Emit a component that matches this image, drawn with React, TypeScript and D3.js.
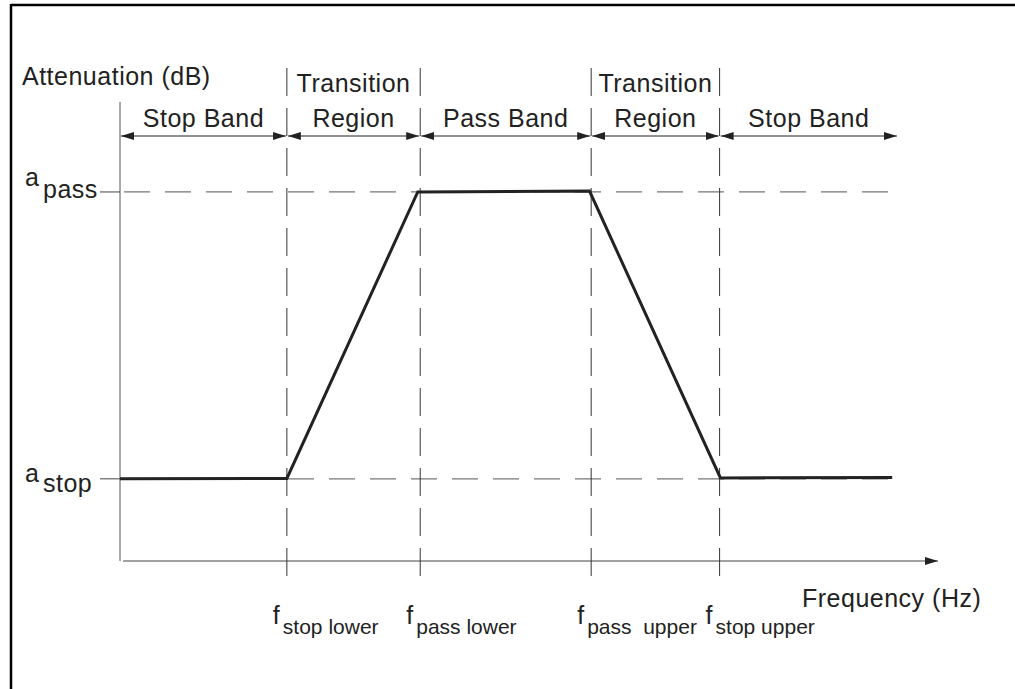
import React from "react";
import * as d3 from "d3";

// Frequency positions (arbitrary units along the frequency axis)
const bandEdges = [20.4, 36.7, 57.6, 73.3];
const bandEdgeNames = ["stop lower", "pass lower", "pass  upper", "stop upper"];
const bandNames = [["Stop Band"], ["Transition", "Region"], ["Pass Band"], ["Transition", "Region"], ["Stop Band"]];
const bandArrowEnd = 95.1;

// Attenuation levels (arbitrary units)
const aLevels = [17.9, 80.4];
const aNames = ["stop", "pass"];

// Response curve
const curveFreq = [0, 20.4, 36.4, 57.4, 73.4, 94.4];
const curveAtten = [17.9, 18.0, 80.4, 80.6, 18.1, 18.2];

const W = 1015;
const H = 689;
// label offsets (layout) for the a-labels: [base dy, subscript dy]
const aLabelDy = [
  [3, 13],
  [-6, 6],
];

export default function App() {
  const x = d3.scaleLinear().domain([0, 100]).range([120, 938]);
  const y = d3.scaleLinear().domain([0, 100]).range([561, 102]);
  const font = "'Liberation Sans', Arial, Helvetica, sans-serif";
  const txt = "#222";
  const fs = 25;
  const ls = 0.5;

  const line = d3
    .line<number>()
    .x((_, i) => x(curveFreq[i]))
    .y((d) => y(d));

  const arrowStops = [0, ...bandEdges, bandArrowEnd];
  const yArrow = 136;

  return (
    <svg
      width={W}
      height={H}
      style={{ position: "absolute", left: 0, top: 0, background: "#fff" }}
      fontFamily={font}
    >
      <defs>
        <marker id="ah" viewBox="0 0 13 8" refX="13" refY="4" markerWidth="13" markerHeight="8" markerUnits="userSpaceOnUse" orient="auto-start-reverse">
          <path d="M0,0 L13,4 L0,8 Z" fill="#222" />
        </marker>
        <marker id="axh" viewBox="0 0 13 8" refX="13" refY="4" markerWidth="13" markerHeight="8" markerUnits="userSpaceOnUse" orient="auto">
          <path d="M0,0 L13,4 L0,8 Z" fill="#222" />
        </marker>
      </defs>
      <rect x={0} y={0} width={W} height={H} fill="#fff" />
      {/* frame */}
      <line x1={11} y1={5} x2={W} y2={5} stroke="#000" strokeWidth={2.5} />
      <line x1={11} y1={4} x2={11} y2={H} stroke="#000" strokeWidth={2.5} />

      {/* axes */}
      <line x1={x(0)} y1={y(100)} x2={x(0)} y2={y(0)} stroke="#555" strokeWidth={1} />
      <line x1={x(0) + 3} y1={y(0)} x2={x(100)} y2={y(0)} stroke="#444" strokeWidth={1.2} markerEnd="url(#axh)" />

      {/* horizontal dashed levels */}
      {aLevels.map((a, i) => (
        <g key={"h" + i}>
          <line x1={x(0) - 20} y1={y(a)} x2={x(0)} y2={y(a)} stroke="#444" strokeWidth={1} />
          <line x1={x(0)} y1={y(a)} x2={x(94.2)} y2={y(a)} stroke="#777" strokeWidth={1.3} strokeDasharray="26 15" strokeDashoffset={-4} />
        </g>
      ))}

      {/* vertical dashed band edges */}
      {bandEdges.map((f, i) => (
        <line key={"v" + i} x1={x(f)} y1={68} x2={x(f)} y2={579} stroke="#333" strokeWidth={1} strokeDasharray="28 12" />
      ))}

      {/* band arrows */}
      {arrowStops.slice(0, -1).map((f, i) => (
        <line
          key={"a" + i}
          x1={x(f) + 1}
          y1={yArrow}
          x2={x(arrowStops[i + 1]) - 1}
          y2={yArrow}
          stroke="#222"
          strokeWidth={1.2}
          markerStart="url(#ah)"
          markerEnd="url(#ah)"
        />
      ))}

      {/* band names */}
      {bandNames.map((names, i) => {
        const cx = (x(arrowStops[i]) + x(arrowStops[i + 1])) / 2;
        return names.length === 1 ? (
          <text key={"b" + i} x={cx} y={127} textAnchor="middle" fontSize={fs} letterSpacing={ls} fill={txt}>
            {names[0]}
          </text>
        ) : (
          <g key={"b" + i}>
            <text x={cx} y={92} textAnchor="middle" fontSize={fs} letterSpacing={ls} fill={txt}>
              {names[0]}
            </text>
            <text x={cx} y={127} textAnchor="middle" fontSize={fs} letterSpacing={ls} fill={txt}>
              {names[1]}
            </text>
          </g>
        );
      })}

      {/* response curve */}
      <path d={line(curveAtten) || ""} fill="none" stroke="#222" strokeWidth={3} strokeLinejoin="miter" />

      {/* y labels */}
      <text x={22} y={85} fontSize={fs} letterSpacing={ls} fill={txt}>
        Attenuation (dB)
      </text>
      {aLevels.map((a, i) => (
        <g key={"al" + i}>
          <text x={25} y={y(a) + aLabelDy[i][0]} fontSize={fs} fill={txt}>a</text>
          <text x={43} y={y(a) + aLabelDy[i][1]} fontSize={fs} letterSpacing={ls} fill={txt}>{aNames[i]}</text>
        </g>
      ))}

      {/* x labels */}
      <text x={802} y={607} fontSize={fs} letterSpacing={ls} fill={txt}>
        Frequency (Hz)
      </text>
      {bandEdges.map((f, i) => (
        <g key={"fl" + i}>
          <text x={x(f) - 14} y={624} fontSize={fs} fill={txt}>f</text>
          <text x={x(f) - 4} y={634} fontSize={21} fill={txt} style={{ whiteSpace: "pre" }}>
            {bandEdgeNames[i]}
          </text>
        </g>
      ))}
    </svg>
  );
}
